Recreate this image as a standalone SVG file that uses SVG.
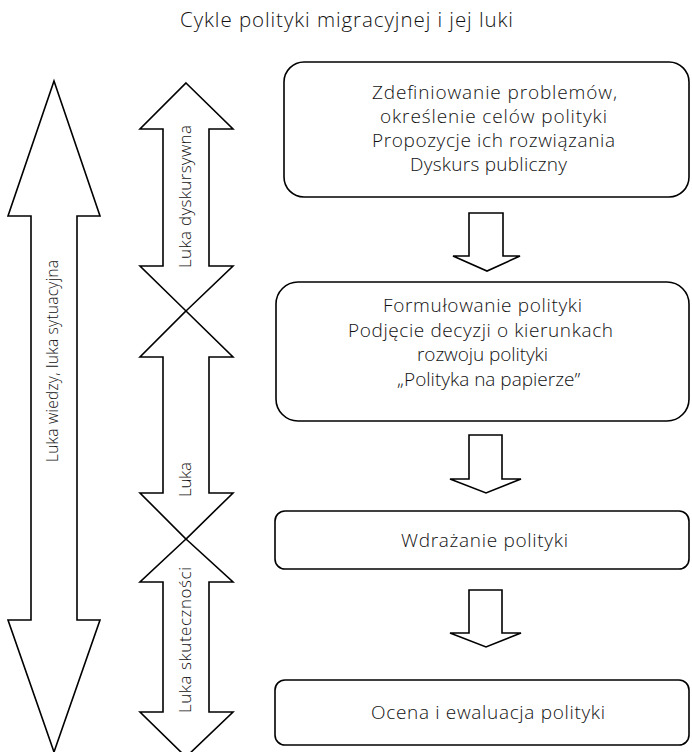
<svg xmlns="http://www.w3.org/2000/svg" width="692" height="752" viewBox="0 0 692 752">
<style>
text{font-family:"Open Sans","Noto Sans","Liberation Sans",sans-serif;font-weight:350;fill:#111}
.t{font-size:19px;text-anchor:middle}
.h{font-size:20.5px;text-anchor:middle}
.v{font-size:17px;text-anchor:middle}
.w{font-size:15.5px;text-anchor:middle}
.box{fill:#fff;stroke:#000;stroke-width:1.6}
.arr{fill:#fff;stroke:#000;stroke-width:1.6;stroke-linejoin:miter}
</style>
<rect width="692" height="752" fill="#fff"/>
<text class="h" x="346.5" y="27" textLength="333">Cykle polityki migracyjnej i jej luki</text>
<g id="gap-knowledge">
<polygon class="arr" points="54,81 100,216 77,216 77,620 100,620 54,752 8,620 31,620 31,216 8,216"/>
<text class="w" transform="translate(57.5,361) rotate(-90)" textLength="202">Luka wiedzy, luka sytuacyjna</text>
</g>
<g id="gap-discursive">
<polygon class="arr" points="186,83 233,129 209,129 209,266 233,266 186,311 140,266 163,266 163,129 140,129"/>
<text class="v" transform="translate(191,196.5) rotate(-90)" textLength="143">Luka dyskursywna</text>
</g>
<g id="gap-middle">
<polygon class="arr" points="186,311 233,357 209,357 209,493 233,493 186,539 140,493 163,493 163,357 140,357"/>
<text class="v" transform="translate(191,479.5) rotate(-90)" textLength="35">Luka</text>
</g>
<g id="gap-effectiveness">
<polygon class="arr" points="186,539 233,582 209,582 209,712 233,712 186,757 140,712 163,712 163,582 140,582"/>
<text class="v" transform="translate(191,640) rotate(-90)" textLength="146">Luka skuteczności</text>
</g>
<g id="stage1">
<rect class="box" x="284" y="62" width="405" height="135" rx="20"/>
<text class="t" x="494.5" y="99" textLength="245">Zdefiniowanie problemów,</text>
<text class="t" x="493.5" y="123" textLength="227">określenie celów polityki</text>
<text class="t" x="493.5" y="147" textLength="243">Propozycje ich rozwiązania</text>
<text class="t" x="488.5" y="171" textLength="157">Dyskurs publiczny</text>
</g>
<g id="stage2">
<rect class="box" x="276" y="282" width="413" height="139" rx="22"/>
<text class="t" x="482.5" y="312" textLength="199">Formułowanie polityki</text>
<text class="t" x="480.5" y="336.5" textLength="265">Podjęcie decyzji o kierunkach</text>
<text class="t" x="482.5" y="361" textLength="131">rozwoju polityki</text>
<text class="t" x="488.5" y="385.5">„Polityka na papierze”</text>
</g>
<g id="stage3">
<rect class="box" x="275" y="511" width="414" height="58" rx="10"/>
<text class="t" x="484.5" y="547" textLength="167">Wdrażanie polityki</text>
</g>
<g id="stage4">
<rect class="box" x="275" y="680" width="414" height="65" rx="10"/>
<text class="t" x="488" y="719" textLength="234">Ocena i ewaluacja polityki</text>
</g>
<g id="connectors">
<polygon class="arr" points="469,213 503,213 503,256 520,256 487,271 453,256 469,256"/>
<polygon class="arr" points="469,435 502,435 502,479 521,479 486,493 450,479 469,479"/>
<polygon class="arr" points="469,590 502,590 502,633 521,633 486,647 450,633 469,633"/>
</g>
</svg>
